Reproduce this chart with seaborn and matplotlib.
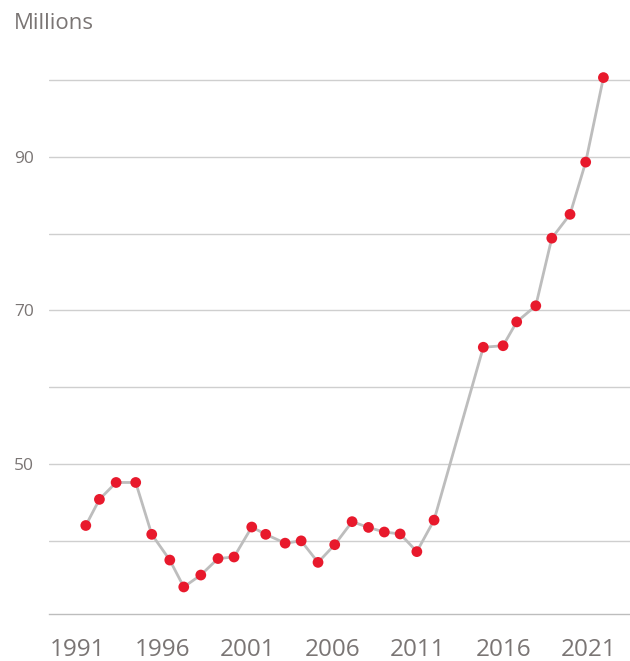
import matplotlib
matplotlib.use("Agg")
import matplotlib.pyplot as plt
import numpy as np
import pandas as pd
import seaborn as sns

# years (slightly off the integer ticks)
anos = [1991.51, 1992.31, 1993.29, 1994.44, 1995.38, 1996.44, 1997.26, 1998.26,
        1999.27, 2000.21, 2001.25, 2002.07, 2003.21, 2004.15, 2005.14, 2006.12,
        2007.14, 2008.10, 2009.03, 2009.96, 2010.94, 2011.95, 2014.84, 2016.00,
        2016.80, 2017.92, 2018.86, 2019.93, 2020.85, 2021.89]
valores = [42.0, 45.4, 47.6, 47.6, 40.85, 37.5, 34.0, 35.55, 37.7, 37.9,
           41.8, 40.85, 39.7, 40.0, 37.2, 39.5, 42.5, 41.75, 41.15, 40.9,
           38.6, 42.7, 65.2, 65.4, 68.5, 70.6, 79.4, 82.5, 89.3, 100.3]

xticks = [1991, 1996, 2001, 2006, 2011, 2016, 2021]
grade_y = [40, 50, 60, 70, 80, 90, 100]
rotulos_y = ["", "50", "", "70", "", "90", ""]

df = pd.DataFrame({"ano": anos, "valor": valores})

sns.set_style("white")
plt.rcParams["font.family"] = ["Open Sans", "DejaVu Sans"]

fig = plt.figure(figsize=(6.3, 6.61), dpi=100)
ax = fig.add_axes([0.0783, 0.0711, 0.9217, 0.8229])

for g in grade_y:
    ax.axhline(g, color="#cfcfcf", lw=1.0, zorder=0)

sns.lineplot(data=df, x="ano", y="valor", ax=ax, color="#bdbdbd", lw=2.0,
             zorder=2, sort=False)
sns.scatterplot(data=df, x="ano", y="valor", ax=ax, color="#e8192c", s=60,
                edgecolor="none", zorder=3, clip_on=False)

ax.set_xlim(1989.37, 2023.45)
ax.set_ylim(30.48, 101.28)
ax.set_xticks(xticks)
ax.set_xticklabels([str(t) for t in xticks])
ax.set_yticks(grade_y)
ax.set_yticklabels(rotulos_y)
ax.tick_params(axis="x", length=0, pad=17, labelsize=17.5, labelcolor="#7a7574")
ax.tick_params(axis="y", length=0, pad=11, labelsize=12.5, labelcolor="#7a7574")
ax.set_xlabel("")
ax.set_ylabel("")
for s in ["top", "right", "left"]:
    ax.spines[s].set_visible(False)
ax.spines["bottom"].set_color("#bdbdbd")
ax.spines["bottom"].set_linewidth(1.0)

fig.text(0.022, 0.956, "Millions", fontsize=16, color="#7a7574", va="baseline")

fig.savefig("out.png", dpi=100)
